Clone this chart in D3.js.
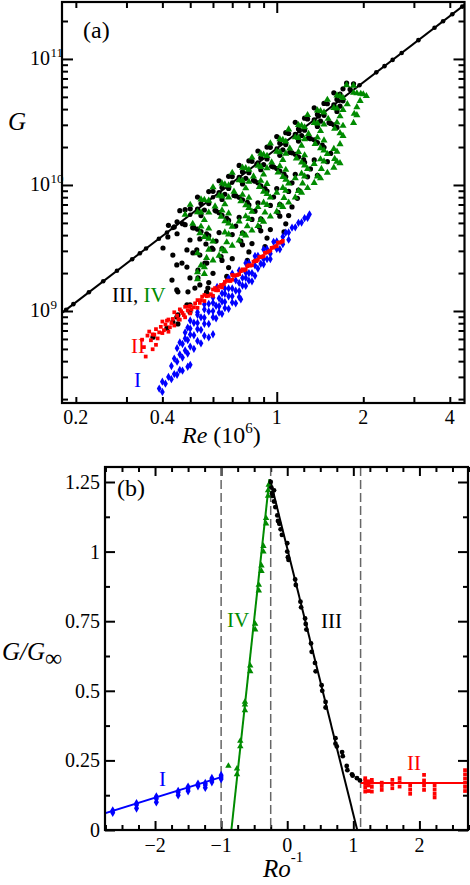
<!DOCTYPE html>
<html>
<head>
<meta charset="utf-8">
<script src="https://cdn.jsdelivr.net/npm/d3@7"></script>
<style>
  body { margin: 0; background: #fff; }
  svg { display: block; font-family: "Liberation Serif", "Times New Roman", serif; }
</style>
</head>
<body>
<svg id="fig" width="470" height="885"></svg>
<script>
// ---- panel (a): G against Re, Re in units of 1e6, G in units of 1e9 ----
const lineDots = [[0.185,1.024],[0.196,1.133],[0.222,1.408],[0.249,1.72],[0.278,2.084],[0.314,2.577],[0.334,2.871],[0.351,3.13],[0.389,3.745],[0.415,4.193],[0.435,4.551],[0.5,5.8],[0.6,7.98],[0.7,10.44],[0.85,14.65],[1.0,19.45],[1.2,26.74],[1.4,34.99],[1.65,46.62],[1.94,61.83],[2.22,78.26],[2.37,87.68],[2.53,98.26],[2.72,111.5],[3.11,140.9],[3.54,176.6],[3.79,198.9],[4.08,226.3],[4.42,260.2]];
const fitInf = [[0.179,0.967],[4.5,268.5]];

const ptsIII = [
  [0.46,6.25],[0.53,8.01],[0.63,10.8],[0.74,14.3],[0.86,18.6],[1.0,24.2],[1.16,31.4],[1.35,40.9],[1.58,53.8],[1.75,64.3],
  [0.48,6.37],[0.58,8.87],[0.68,11.7],[0.80,15.54],[0.925,20.0],[1.075,26.0],[1.25,33.9],[1.46,44.4],[1.70,57.9],
  [0.42,4.78],[0.50,6.47],[0.60,8.91],[0.70,11.65],[0.82,15.4],[0.95,19.9],[1.10,25.6],[1.28,33.4],[1.50,44.1],[1.66,52.6],[1.85,63.5],
  [0.45,5.10],[0.545,7.13],[0.645,9.56],[0.76,12.7],[0.88,16.4],[1.025,21.45],[1.19,27.8],[1.385,36.3],[1.62,47.7],[1.80,57.3],
  [0.44,4.65],[0.53,6.43],[0.63,8.69],[0.74,11.5],[0.86,14.95],[1.16,25.2],[1.35,32.85],[1.58,43.2],
  [0.47,4.93],[0.58,7.12],[0.68,9.39],[0.80,12.5],[0.925,16.1],[1.075,20.9],[1.25,27.2],[1.46,35.7],[1.70,46.5],
  [0.48,4.84],[0.56,6.33],[0.66,8.44],[0.78,11.3],[0.90,14.5],[1.05,19.0],[1.22,24.7],[1.42,32.1],[1.66,42.2],
  [0.45,4.10],[0.545,5.72],[0.645,7.67],[0.76,10.2],[0.88,13.2],[1.025,17.2],[1.19,22.3],[1.385,29.1],[1.62,38.3],
  [0.51,4.58],[0.61,6.30],[0.71,8.25],[0.83,10.9],[0.96,14.05],[1.11,18.15],[1.29,23.6],[1.52,31.2],
  [0.515,4.56],[0.615,6.21],[0.72,8.18],[0.84,10.7],[0.975,13.9],[1.13,18.0],[1.31,23.3],[1.54,30.8],
  [0.53,4.46],[0.63,6.03],[0.74,7.98],[0.86,10.4],[1.00,13.5],[1.16,17.5],[1.35,22.8],[1.58,30.0],
  [0.545,4.27],[0.645,5.73],[0.76,7.63],[0.88,9.85],[1.025,12.9],[1.19,16.7],[1.385,21.7],[1.62,28.6],
  [0.57,4.09],[0.67,5.44],[0.79,7.29],[0.91,9.36],[1.06,12.2],[1.24,15.9],[1.44,20.7],
  [0.58,3.96],[0.68,5.23],[0.80,6.95],[0.925,8.95],[1.075,11.6],[1.25,15.1],[1.46,19.9],
  [0.63,4.19],[0.74,5.54],[0.86,7.21],[1.00,9.37],[1.16,12.15],[1.35,15.8],
  [0.615,3.59],[0.72,4.72],[0.84,6.19],[0.975,8.03],[1.13,10.4],[1.31,13.4],[1.54,17.8],
  [0.60,3.09],[0.70,4.04],[0.82,5.33],[0.95,6.88],[1.10,8.89],[1.28,11.6],[1.50,15.3],
  [0.645,3.13],[0.76,4.17],[0.88,5.38],[1.025,7.03],[1.19,9.12],[1.385,11.9],
  [0.64,2.70],[0.75,3.58],[0.87,4.65],[1.01,6.05],[1.18,7.84],
  [0.645,2.52],[0.76,3.35],[0.88,4.33],[1.025,5.65],[1.13,6.69],
  [0.60,1.99],[0.70,2.60],[0.82,3.43],[0.95,4.43],[1.10,5.72],
  [0.58,1.68],[0.68,2.21],[0.80,2.94],[0.925,3.79],[1.075,4.92],
  [0.57,1.41],[0.67,1.88],[0.79,2.52],[0.91,3.24],[1.06,4.24],
  // sparse points at the low-Re edge of the cloud
  [0.402,3.16],[0.435,2.78],[0.468,2.40],[0.432,1.76],[0.487,2.23],[0.511,2.89],[0.540,2.78],[0.532,2.11],
  [0.453,1.42],[0.491,1.42],[0.540,1.61],[0.571,2.40],[0.487,1.12],[0.499,0.98],[0.453,0.93],[0.435,0.82],
  [0.371,0.62],[0.415,0.73],[0.418,3.87],[0.499,3.66],[0.540,3.73],[0.567,3.40],[0.527,3.05],[0.487,3.05],
  [0.449,2.32],[0.499,1.83],[0.532,1.83],[0.562,2.40],[0.449,1.47],[0.519,1.52],[0.576,1.52],[0.499,1.12],
  [0.449,0.896],[0.453,0.79],[0.595,3.16]
];

const ptsIV = [
  [0.50,6.96],[0.60,9.58],[0.70,12.5],[0.82,16.5],[0.95,21.4],[1.10,27.6],[1.28,35.9],[1.50,47.4],[1.75,62.0],
  [0.545,7.67],[0.645,10.3],[0.76,13.7],[0.88,17.7],[1.025,23.1],[1.19,29.9],[1.385,39.0],[1.62,51.3],
  [0.48,5.81],[0.56,7.61],[0.66,10.1],[0.78,13.6],[0.90,17.4],[1.05,22.8],[1.22,29.6],[1.42,38.6],[1.66,50.7],[1.85,61.3],
  [0.58,7.52],[0.68,9.92],[0.80,13.2],[0.925,17.0],[1.075,22.1],[1.25,28.7],[1.46,37.7],[1.70,49.1],
  [0.53,6.09],[0.63,8.23],[0.74,10.9],[0.86,14.2],[1.00,18.4],[1.16,23.9],[1.35,31.1],[1.58,40.9],[1.85,53.9],
  [0.545,6.05],[0.645,8.11],[0.76,10.8],[0.88,13.9],[1.025,18.2],[1.19,23.6],[1.385,30.8],[1.62,40.4],[1.90,53.4],
  [0.51,4.92],[0.61,6.77],[0.71,8.85],[0.83,11.7],[0.96,15.1],[1.11,19.5],[1.29,25.4],[1.51,33.5],[1.76,43.8],[1.96,52.9],
  [0.58,6.04],[0.68,7.97],[0.80,10.6],[0.925,13.6],[1.075,17.7],[1.25,23.1],[1.46,30.2],[1.70,39.4],[2.00,52.4],
  [0.56,5.27],[0.66,7.03],[0.78,9.41],[0.90,12.1],[1.05,15.8],[1.22,20.5],[1.42,26.8],[1.66,35.1],[1.95,46.5],[2.05,50.8],
  [0.545,4.68],[0.645,6.28],[0.76,8.36],[0.88,10.8],[1.025,14.1],[1.19,18.3],[1.385,23.8],[1.62,31.3],[1.90,41.4],
  [0.54,4.15],[0.64,5.61],[0.75,7.42],[0.87,9.64],[1.01,12.55],[1.17,16.25],[1.36,21.2],[1.59,27.9],[1.86,36.7],
  [0.58,4.51],[0.68,5.95],[0.80,7.91],[0.925,10.2],[1.075,13.2],[1.25,17.2],[1.46,22.6],[1.70,29.5],[1.90,35.8],
  [0.56,3.87],[0.66,5.15],[0.78,6.90],[0.90,8.86],[1.05,11.6],[1.22,15.1],[1.42,19.6],[1.66,25.8],[1.85,31.1],
  [0.58,3.75],[0.68,4.95],[0.80,6.58],[0.925,8.47],[1.075,11.0],[1.25,14.3],[1.46,18.8],[1.70,24.5],
  [0.53,2.87],[0.60,3.57],[0.66,4.21],[0.70,4.67],[0.74,5.14],[0.78,5.64],[0.82,6.15],[0.86,6.68],[0.90,7.24],[0.95,7.95],[1.00,8.69],[1.05,9.47],[1.10,10.3],[1.16,11.3],[1.22,12.3],[1.28,13.4],[1.35,14.7],[1.42,16.0],[1.50,17.6],[1.58,19.3],[1.66,21.1],
  [0.58,3.07],[0.68,4.05],[0.80,5.38],[0.925,6.93],[1.075,9.00],[1.25,11.7],[1.46,15.4],[1.62,18.4],
  [0.57,2.64],[0.67,3.51],[0.79,4.70],[0.91,6.04],[1.06,7.90],[1.23,10.3],[1.43,13.4],[1.59,16.1],
  [0.545,2.30],[0.645,3.08],[0.76,4.10],[0.88,5.29],[1.025,6.91],[1.19,8.96],[1.385,11.7],[1.62,15.3],
  [0.53,2.03],[0.56,2.23],[0.60,2.52],[0.63,2.75],[0.66,2.98],[0.70,3.30],[0.74,3.63],[0.78,3.98],[0.82,4.35],[0.86,4.72],[0.90,5.12],[0.95,5.62],[1.00,6.15],[1.05,6.69],[1.10,7.26],[1.16,7.96],[1.22,8.70],[1.28,9.46],[1.35,10.4],[1.42,11.3],[1.50,12.5],[1.58,13.7],[1.66,14.9],
  [0.53,1.79],[0.56,1.97]
];

const ptsII = [
  [0.34,0.592],[0.35,0.435],[0.36,0.687],[0.37,0.497],[0.37,0.652],[0.38,0.539],[0.38,0.718],[0.39,0.677],[0.40,0.825],[0.40,0.668],
  [0.41,0.781],[0.42,0.685],[0.42,0.856],[0.43,0.803],[0.44,0.977],[0.44,0.767],[0.45,0.918],[0.46,0.853],[0.46,1.03],[0.47,0.964],
  [0.48,0.891],[0.48,1.08],[0.49,1.01],[0.50,1.10],[0.50,0.957],[0.515,1.07],[0.53,1.22],[0.53,1.06],[0.545,1.22],[0.56,1.20],
  [0.56,1.34],[0.58,1.32],[0.60,1.48],[0.60,1.32],[0.615,1.46],[0.63,1.56],[0.645,1.54],[0.66,1.70],[0.68,1.74],[0.70,1.77],
  [0.70,1.93],[0.72,1.92],[0.74,1.96],[0.76,2.14],[0.78,2.14],[0.80,2.31],[0.82,2.31],[0.84,2.51],[0.86,2.54],[0.88,2.68],
  [0.90,2.72],[0.925,2.92],[0.95,3.02],[0.975,3.20],[1.00,3.27],[1.025,3.49],[1.05,3.60],
  [0.345,0.517],[0.355,0.638],[0.365,0.586],[0.375,0.649],[0.385,0.606],[0.395,0.749],[0.405,0.704],[0.415,0.838],[0.425,0.743],[0.435,0.865],
  [0.455,0.861],[0.465,0.996],[0.475,0.928],[0.495,1.08],[0.505,1.03],[0.52,1.15],[0.54,1.16],[0.55,1.30],[0.57,1.31],[0.59,1.36],
  [0.61,1.52],[0.625,1.46],[0.64,1.61],[0.655,1.63],[0.67,1.74],[0.69,1.73],[0.71,1.90],[0.73,1.93],[0.75,2.07],[0.77,2.10],
  [0.79,2.27],[0.81,2.29],[0.83,2.46],[0.85,2.49],[0.87,2.67],[0.89,2.70],[0.91,2.89],[0.94,2.97],[0.96,3.17],[0.99,3.25],[1.01,3.48],[1.04,3.54]
];

const ptsI = [
  [0.39,0.2425],[0.40,0.228],[0.41,0.265],[0.43,0.288],[0.45,0.312],[0.47,0.336],[0.49,0.361],[0.50,0.374],
  [0.40,0.275],[0.42,0.30],[0.44,0.316],[0.46,0.341],
  [0.43,0.366],[0.45,0.396],[0.47,0.427],[0.49,0.459],[0.515,0.501],[0.545,0.554],[0.58,0.617],[0.60,0.654],
  [0.44,0.419],[0.46,0.452],[0.48,0.486],[0.50,0.522],[0.53,0.579],[0.56,0.636],
  [0.45,0.507],[0.47,0.547],[0.49,0.588],[0.515,0.642],[0.545,0.709],[0.58,0.790],[0.615,0.875],[0.645,0.950],[0.68,1.04],[0.72,1.15],[0.75,1.24],
  [0.46,0.562],[0.48,0.605],[0.50,0.65],[0.53,0.72],[0.56,0.792],[0.60,0.894],[0.63,0.973],[0.66,1.055],[0.70,1.17],[0.74,1.29],
  [0.48,0.675],[0.50,0.725],[0.53,0.804],[0.56,0.884],[0.60,0.998],[0.63,1.09],[0.66,1.18],[0.70,1.31],[0.74,1.44],[0.78,1.58],[0.82,1.72],
  [0.49,0.739],[0.515,0.807],[0.545,0.891],[0.58,0.993],[0.615,1.10],[0.645,1.19],[0.68,1.31],[0.72,1.45],[0.76,1.59],[0.80,1.74],[0.84,1.90],
  [0.50,0.841],[0.53,0.932],[0.56,1.03],[0.60,1.16],[0.63,1.26],[0.66,1.37],[0.70,1.51],[0.74,1.67],[0.78,1.83],[0.82,2.00],[0.86,2.17],[0.90,2.35],[0.95,2.58],
  [0.53,0.977],[0.58,1.14],[0.645,1.38],[0.68,1.51],[0.76,1.83],[0.80,2.00],[0.88,2.37],[0.925,2.58],[1.025,3.09],
  [0.56,1.13],[0.60,1.28],[0.66,1.51],[0.72,1.75],[0.78,2.02],[0.84,2.30],[0.90,2.59],[0.95,2.85],[1.00,3.11],[1.05,3.39],[1.10,3.68],
  [0.62,1.55],[0.68,1.82],[0.74,2.10],[0.80,2.41],[0.86,2.74],[0.925,3.11],[1.00,3.56],[1.05,3.88],[1.10,4.20],[1.16,4.61],[1.22,5.04],[1.28,5.48],
  [0.70,1.98],[0.78,2.40],[0.84,2.73],[0.90,3.08],[0.975,3.54],[1.075,4.19],[1.13,4.58],[1.19,5.01],[1.25,5.46],[1.30,5.85]
];

const aXTicks = [0.2,0.3,0.4,0.5,0.6,0.7,0.8,0.9,1,2,3,4];
const aXMajor = [1];
const aXLabels = [0.2,0.4,1,2,4];
const aYMajor = [1,10,100];          // 1e9, 1e10, 1e11
const aYExp = ["9","10","11"];
const aYMinor = [0.2,0.3,0.4,0.5,0.6,0.7,0.8,0.9,2,3,4,5,6,7,8,9,20,30,40,50,60,70,80,90,200];

// ---- panel (b): G/G_inf against Ro^-1 ----
const bI = [[-2.64,0.062],[-2.64,0.07],[-2.28,0.078],[-2.28,0.09],[-2.28,0.096],[-1.98,0.1],[-1.98,0.112],[-1.98,0.12],[-1.65,0.125],[-1.65,0.135],[-1.65,0.14],[-1.5,0.14],[-1.5,0.148],[-1.5,0.155],[-1.35,0.158],[-1.35,0.166],[-1.24,0.152],[-1.24,0.162],[-1.24,0.168],[-1.14,0.172],[-1.14,0.18],[-1.14,0.186],[-1.0,0.183],[-1.0,0.19],[-1.0,0.197]];
const bII = [[1.18,0.138],[1.18,0.152],[1.18,0.165],[1.18,0.178],[1.18,0.186],[1.23,0.14],[1.23,0.16],[1.23,0.175],[1.28,0.138],[1.28,0.155],[1.28,0.17],[1.28,0.18],[1.43,0.144],[1.43,0.158],[1.43,0.17],[1.59,0.15],[1.59,0.165],[1.59,0.18],[1.70,0.156],[1.70,0.172],[1.70,0.186],[1.86,0.13],[1.86,0.145],[1.86,0.16],[2.07,0.144],[2.07,0.16],[2.07,0.178],[2.07,0.198],[2.23,0.117],[2.23,0.13],[2.23,0.145],[2.23,0.16],[2.69,0.14],[2.69,0.155],[2.69,0.17],[2.69,0.185],[2.69,0.2],[2.69,0.215]];
const bIII = [[-0.25,1.25],[-0.24,1.23],[-0.23,1.21],[-0.22,1.2],[-0.2,1.22],[-0.2,1.18],[-0.18,1.16],[-0.15,1.13],[-0.14,1.11],[-0.12,1.1],[-0.1,1.08],[-0.08,1.06],[0.0,1.03],[0.0,1.0],[0.01,0.98],[0.02,0.97],[0.12,0.9],[0.13,0.88],[0.2,0.82],[0.21,0.8],[0.27,0.76],[0.28,0.74],[0.29,0.72],[0.36,0.67],[0.37,0.64],[0.42,0.6],[0.43,0.57],[0.52,0.52],[0.53,0.5],[0.58,0.46],[0.58,0.44],[0.73,0.33],[0.73,0.31],[0.75,0.3],[0.83,0.28],[0.84,0.265],[0.9,0.23],[0.91,0.215],[0.98,0.2],[0.99,0.195],[1.055,0.186],[1.1,0.178]];
const bIV = [[-0.29,1.2],[-0.29,1.22],[-0.28,1.24],[-0.32,1.1],[-0.32,1.12],[-0.36,1.0],[-0.36,1.02],[-0.39,0.93],[-0.39,0.95],[-0.43,0.86],[-0.43,0.88],[-0.485,0.72],[-0.485,0.74],[-0.56,0.57],[-0.56,0.59],[-0.64,0.43],[-0.64,0.45],[-0.64,0.46],[-0.71,0.3],[-0.71,0.32],[-0.76,0.2],[-0.76,0.22],[-0.89,0.23]];
const fitI = [[-2.76,0.06],[-1,0.19]];
const fitII = [[1.11,0.169],[2.74,0.169]];
const fitIII = [[-0.26,1.26],[1.08,-0.02]];
const fitIV = [[-0.845,0],[-0.27,1.26]];
const dashX = [-1,-0.25,1.11];
const bXMajor = [-2,-1,0,1,2];
const bXMinor = d3.range(-2.75,2.76,0.25).filter(v => Math.abs(v - Math.round(v)) > 0.01);
const bYMajor = [0,0.25,0.5,0.75,1,1.25];
const bYLabels = ["0","0.25","0.5","0.75","1","1.25"];
const bYMinor = [0.125,0.375,0.625,0.875,1.125];

const BLUE = "#0000ff", RED = "#ff0000", GREEN = "#008b00", BLACK = "#000";

const svg = d3.select("#fig");
svg.append("rect").attr("width",470).attr("height",885).attr("fill","#fff");

// ================= panel (a) =================
const A = {l: 62, r: 464.5, t: 2, b: 403};
const xa = d3.scaleLog().domain([0.179, 4.5]).range([A.l, A.r]);
const ya = d3.scaleLog().domain([0.1862, 283]).range([A.b, A.t]);

const ga = svg.append("g");
ga.append("defs").append("clipPath").attr("id","clipA")
  .append("rect").attr("x",A.l).attr("y",A.t).attr("width",A.r-A.l).attr("height",A.b-A.t);

function tickAxis(g, axis, tx, ty) {
  const s = g.append("g").attr("transform", `translate(${tx},${ty})`).call(axis);
  s.select(".domain").remove();
  s.selectAll(".tick line").attr("stroke","#000").attr("stroke-width",2);
  s.selectAll(".tick text").remove();
  return s;
}
tickAxis(ga, d3.axisLeft(ya).tickValues(aYMinor).tickSize(-6), A.l, 0);
tickAxis(ga, d3.axisLeft(ya).tickValues(aYMajor).tickSize(-11), A.l, 0);
tickAxis(ga, d3.axisRight(ya).tickValues(aYMinor).tickSize(-6), A.r, 0);
tickAxis(ga, d3.axisRight(ya).tickValues(aYMajor).tickSize(-11), A.r, 0);
tickAxis(ga, d3.axisBottom(xa).tickValues(aXTicks.filter(v => !aXMajor.includes(v))).tickSize(-6), 0, A.b);
tickAxis(ga, d3.axisBottom(xa).tickValues(aXMajor).tickSize(-11), 0, A.b);
tickAxis(ga, d3.axisTop(xa).tickValues(aXTicks.filter(v => !aXMajor.includes(v))).tickSize(-6), 0, A.t);
tickAxis(ga, d3.axisTop(xa).tickValues(aXMajor).tickSize(-11), 0, A.t);

const pa = ga.append("g").attr("clip-path","url(#clipA)");
pa.append("path").datum(fitInf)
  .attr("d", d3.line().x(d => xa(d[0])).y(d => ya(d[1])))
  .attr("fill","none").attr("stroke",BLACK).attr("stroke-width",2);
pa.selectAll("circle.ld").data(lineDots).join("circle").attr("class","ld")
  .attr("cx", d => xa(d[0])).attr("cy", d => ya(d[1])).attr("r",2.3).attr("fill",BLACK);
pa.selectAll("circle.p3").data(ptsIII).join("circle").attr("class","p3")
  .attr("cx", d => xa(d[0])).attr("cy", d => ya(d[1])).attr("r",2.6).attr("fill",BLACK);
const tri = d3.symbol().type(d3.symbolTriangle).size(22);
pa.selectAll("path.p4").data(ptsIV).join("path").attr("class","p4")
  .attr("transform", d => `translate(${xa(d[0])},${ya(d[1])})`).attr("d", tri).attr("fill",GREEN);
const dia = d3.symbol().type(d3.symbolDiamond).size(20);
pa.selectAll("path.p1").data(ptsI).join("path").attr("class","p1")
  .attr("transform", d => `translate(${xa(d[0])},${ya(d[1])})`).attr("d", dia).attr("fill",BLUE);
const sq = d3.symbol().type(d3.symbolSquare).size(14);
pa.selectAll("path.p2").data(ptsII).join("path").attr("class","p2")
  .attr("transform", d => `translate(${xa(d[0])},${ya(d[1])})`).attr("d", sq).attr("fill",RED);

ga.append("rect").attr("x",A.l).attr("y",A.t).attr("width",A.r-A.l).attr("height",A.b-A.t)
  .attr("fill","none").attr("stroke","#000").attr("stroke-width",2.2);

// tick labels (a)
ga.selectAll("text.xl").data(aXLabels).join("text").attr("class","xl")
  .attr("x", d => xa(d)).attr("y", 424).attr("text-anchor","middle")
  .attr("font-size",20).text(d => d);
aYMajor.forEach((v, i) => {
  const y = ya(v);
  ga.append("text").attr("x",50).attr("y",y+6).attr("text-anchor","end").attr("font-size",20).text("10");
  ga.append("text").attr("x",50.5).attr("y",y-2).attr("font-size",13).text(aYExp[i]);
});
ga.append("text").attr("x",8).attr("y",130).attr("font-size",25).attr("font-style","italic").text("G");
const reLab = ga.append("text").attr("x",182).attr("y",443).attr("font-size",24);
reLab.append("tspan").attr("font-style","italic").text("Re");
reLab.append("tspan").text(" (10");
reLab.append("tspan").attr("font-size",15).attr("dy",-10).text("6");
reLab.append("tspan").attr("dy",10).text(")");
ga.append("text").attr("x",83).attr("y",38).attr("font-size",24).text("(a)");
const lab34 = ga.append("text").attr("x",112).attr("y",302).attr("font-size",21);
lab34.append("tspan").attr("fill",BLACK).text("III, ");
lab34.append("tspan").attr("fill",GREEN).text("IV");
ga.append("text").attr("x",131).attr("y",353).attr("font-size",21).attr("fill",RED).text("II");
ga.append("text").attr("x",134).attr("y",387).attr("font-size",21).attr("fill",BLUE).text("I");

// ================= panel (b) =================
const B = {l: 105, r: 468, t: 467, b: 830};
const xb = d3.scaleLinear().domain([-2.757, 2.735]).range([B.l, B.r]);
const yb = d3.scaleLinear().domain([0, 1.25]).range([830, 482]);

const gb = svg.append("g");
gb.append("defs").append("clipPath").attr("id","clipB")
  .append("rect").attr("x",B.l).attr("y",B.t).attr("width",B.r-B.l).attr("height",B.b-B.t);

tickAxis(gb, d3.axisLeft(yb).tickValues(bYMinor).tickSize(-5), B.l, 0);
tickAxis(gb, d3.axisLeft(yb).tickValues(bYMajor).tickSize(-10), B.l, 0);
tickAxis(gb, d3.axisRight(yb).tickValues(bYMinor).tickSize(-5), B.r, 0);
tickAxis(gb, d3.axisRight(yb).tickValues(bYMajor).tickSize(-10), B.r, 0);
tickAxis(gb, d3.axisBottom(xb).tickValues(bXMinor).tickSize(-5), 0, B.b);
tickAxis(gb, d3.axisBottom(xb).tickValues(bXMajor).tickSize(-9), 0, B.b);
tickAxis(gb, d3.axisTop(xb).tickValues(bXMinor).tickSize(-5), 0, B.t);
tickAxis(gb, d3.axisTop(xb).tickValues(bXMajor).tickSize(-9), 0, B.t);

const pb = gb.append("g").attr("clip-path","url(#clipB)");
pb.selectAll("line.dash").data(dashX).join("line").attr("class","dash")
  .attr("x1", d => xb(d)).attr("x2", d => xb(d)).attr("y1",B.t).attr("y2",B.b)
  .attr("stroke","#666").attr("stroke-width",1.5).attr("stroke-dasharray","9,4");
const lb = d3.line().x(d => xb(d[0])).y(d => yb(d[1]));
[[fitI,BLUE],[fitII,RED],[fitIV,GREEN],[fitIII,BLACK]].forEach(([f,c]) => {
  pb.append("path").datum(f).attr("d", lb).attr("fill","none").attr("stroke",c).attr("stroke-width",2);
});
pb.selectAll("path.b1").data(bI).join("path").attr("class","b1")
  .attr("transform", d => `translate(${xb(d[0])},${yb(d[1])})`).attr("d", d3.symbol().type(d3.symbolDiamond).size(22)).attr("fill",BLUE);
pb.selectAll("path.b2").data(bII).join("path").attr("class","b2")
  .attr("transform", d => `translate(${xb(d[0])},${yb(d[1])})`).attr("d", d3.symbol().type(d3.symbolSquare).size(14)).attr("fill",RED);
pb.selectAll("path.b4").data(bIV).join("path").attr("class","b4")
  .attr("transform", d => `translate(${xb(d[0])},${yb(d[1])})`).attr("d", d3.symbol().type(d3.symbolTriangle).size(18)).attr("fill",GREEN);
pb.selectAll("circle.b3").data(bIII).join("circle").attr("class","b3")
  .attr("cx", d => xb(d[0])).attr("cy", d => yb(d[1])).attr("r",2.4).attr("fill",BLACK);

gb.append("rect").attr("x",B.l).attr("y",B.t).attr("width",B.r-B.l).attr("height",B.b-B.t)
  .attr("fill","none").attr("stroke","#000").attr("stroke-width",2.2);

gb.selectAll("text.yl").data(bYMajor).join("text").attr("class","yl")
  .attr("x",100).attr("y", d => yb(d)+7).attr("text-anchor","end").attr("font-size",20)
  .text((d,i) => bYLabels[i]);
gb.selectAll("text.xl").data(bXMajor).join("text").attr("class","xl")
  .attr("x", d => xb(d)).attr("y",852).attr("text-anchor","middle").attr("font-size",20)
  .text(d => d < 0 ? "\u2212" + (-d) : d);
const gl = gb.append("text").attr("x",2).attr("y",660).attr("font-size",25).attr("font-style","italic");
gl.append("tspan").text("G/G");
gl.append("tspan").attr("font-size",24).attr("font-style","normal").attr("dy",6).text("\u221e");
const rl = gb.append("text").attr("x",263).attr("y",877).attr("font-size",25);
rl.append("tspan").attr("font-style","italic").text("Ro");
rl.append("tspan").attr("font-size",15).attr("dy",-15).text("-1");
gb.append("text").attr("x",117).attr("y",496).attr("font-size",24).text("(b)");
gb.append("text").attr("x",227).attr("y",627).attr("font-size",21).attr("fill",GREEN).text("IV");
gb.append("text").attr("x",321).attr("y",628).attr("font-size",21).attr("fill",BLACK).text("III");
gb.append("text").attr("x",159).attr("y",786).attr("font-size",21).attr("fill",BLUE).text("I");
gb.append("text").attr("x",407).attr("y",770).attr("font-size",21).attr("fill",RED).text("II");
</script>
</body>
</html>
